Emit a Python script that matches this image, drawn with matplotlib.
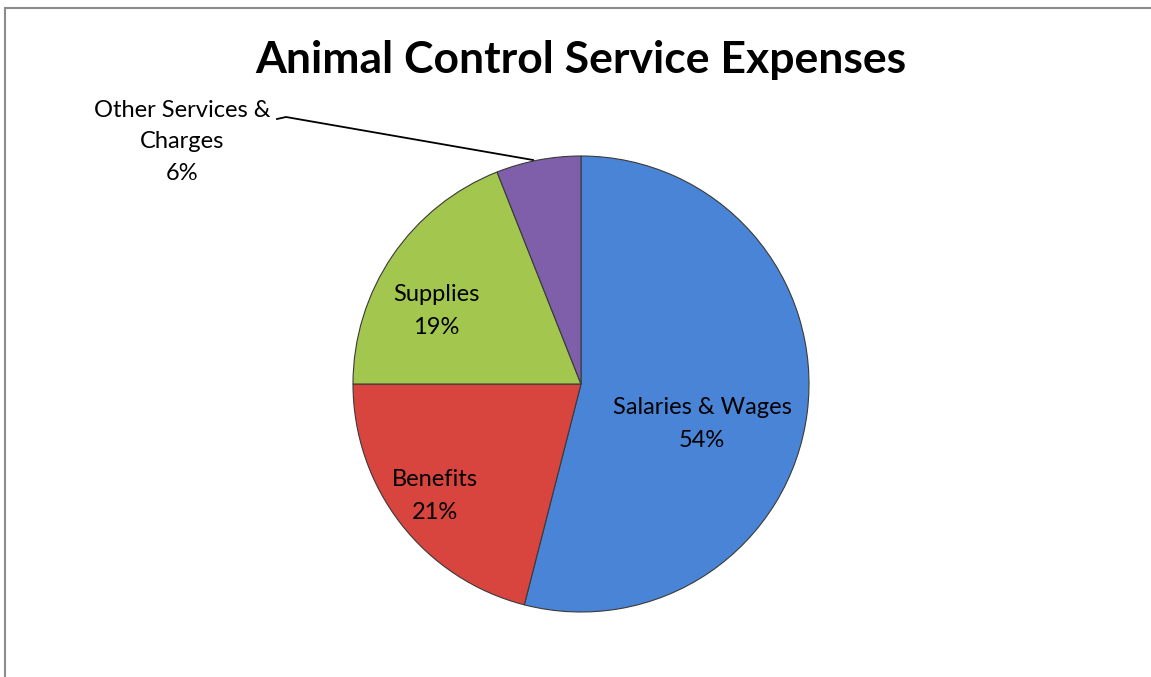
import matplotlib
matplotlib.use("Agg")
import matplotlib.pyplot as plt
from matplotlib.patches import Rectangle

categories = ["Salaries & Wages", "Benefits", "Supplies", "Other Services &\nCharges"]
values = [54, 21, 19, 6]
colors = ["#4A84D6", "#D8443E", "#A2C64E", "#7F5FAA"]
title = "Animal Control Service Expenses"

W, H = 1151, 677
fig = plt.figure(figsize=(W / 100, H / 100), dpi=100)
ax = fig.add_axes([0, 0, 1, 1])

plt.rcParams['font.family'] = ['Lato', 'DejaVu Sans']

# border
ax.add_patch(Rectangle((5.5, -20), W + 20, H - 7.5 + 20, fill=False, ec="#8c8c8c", lw=1.5))

cx, cy, r = 581, H - 384, 228
wedges, _ = ax.pie(values, colors=colors, startangle=90, counterclock=False,
                   center=(cx, cy), radius=r, frame=True,
                   wedgeprops=dict(edgecolor="#3a3a3a", linewidth=0.8))
ax.set_xlim(0, W)
ax.set_ylim(0, H)
ax.set_aspect("equal")
ax.axis("off")

fs = 17
label_pos = [(702, H - 424), (435, H - 496), (436, H - 311)]
for (x, y), name, v in zip(label_pos, categories[:3], values[:3]):
    ax.text(x, y, f"{name}\n{v}%", ha="center", va="center", fontsize=fs,
            linespacing=1.65, color="black")

ax.text(182, H - 142, f"{categories[3]}\n{values[3]}%", ha="center", va="center",
        fontsize=fs, linespacing=1.6, color="black")
ax.plot([277, 286, 533], [H - 119, H - 117, H - 160], color="black", lw=1.3)

ax.text(581, H - 60, title, ha="center", va="center", fontsize=32, fontweight="bold")

fig.savefig("out.png", dpi=100)
